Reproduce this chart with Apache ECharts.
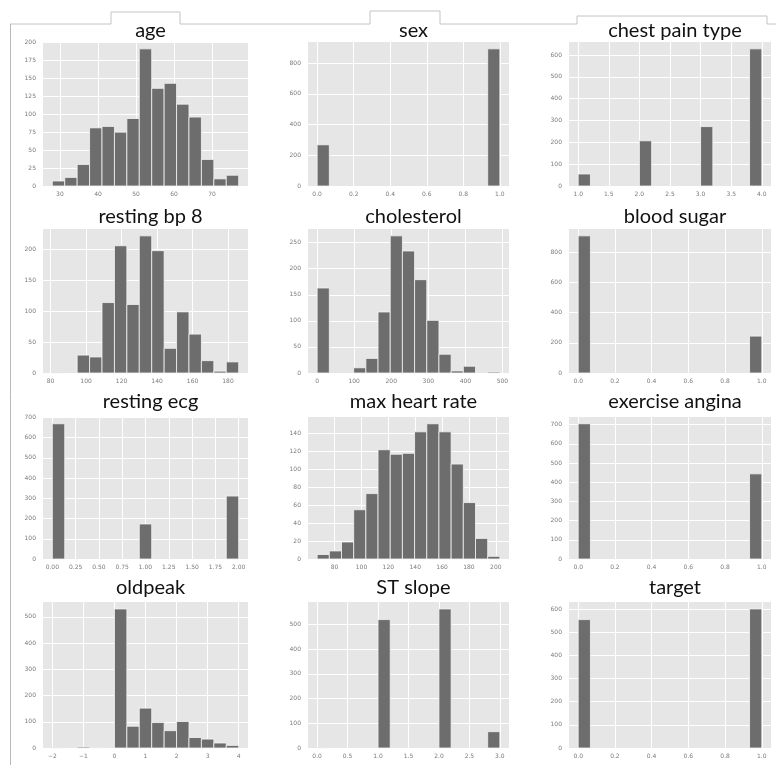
<!DOCTYPE html>
<html>
<head>
<meta charset="utf-8">
<script src="https://cdn.jsdelivr.net/npm/echarts@6/dist/echarts.min.js"></script>
<style>
html,body{margin:0;padding:0;background:#ffffff;}
#chart{width:776px;height:765px;}
</style>
</head>
<body>
<div id="chart"></div>
<script>
// ---------- data (histogram counts, 15 bins each) ----------
const titles = ['age','sex','chest pain type','resting bp 8','cholesterol','blood sugar',
                'resting ecg','max heart rate','exercise angina','oldpeak','ST slope','target'];

const ageCounts      = [7,12,30,81,83,75,94,191,136,143,114,96,37,10,15];
const ageRange       = [28,77];
const ageXTicks      = [30,40,50,60,70];
const ageYTicks      = [0,25,50,75,100,125,150,175,200];

const sexCounts      = [268,0,0,0,0,0,0,0,0,0,0,0,0,0,892];
const sexRange       = [0,1];
const sexXTicks      = [0,0.2,0.4,0.6,0.8,1.0];
const sexYTicks      = [0,200,400,600,800];

const chestCounts    = [55,0,0,0,0,207,0,0,0,0,272,0,0,0,628];
const chestRange     = [1,4];
const chestXTicks    = [1,1.5,2,2.5,3,3.5,4];
const chestYTicks    = [0,100,200,300,400,500,600];

const bpCounts       = [1,0,29,26,114,206,111,222,198,40,99,63,20,3,18];
const bpRange        = [81,186];
const bpXTicks       = [80,100,120,140,160,180];
const bpYTicks       = [0,50,100,150,200];

const cholCounts     = [163,0,0,10,28,117,263,234,179,101,36,4,13,0,2];
const cholRange      = [0,493];
const cholXTicks     = [0,100,200,300,400,500];
const cholYTicks     = [0,50,100,150,200,250];

const sugarCounts    = [907,0,0,0,0,0,0,0,0,0,0,0,0,0,244];
const sugarRange     = [0,1];
const sugarXTicks    = [0,0.2,0.4,0.6,0.8,1.0];
const sugarYTicks    = [0,200,400,600,800];

const ecgCounts      = [668,0,0,0,0,0,0,173,0,0,0,0,0,0,311];
const ecgRange       = [0,2];
const ecgXTicks      = [0,0.25,0.5,0.75,1,1.25,1.5,1.75,2];
const ecgYTicks      = [0,100,200,300,400,500,600,700];

const hrCounts       = [5,9,19,55,73,122,117,118,142,151,142,106,63,23,3];
const hrRange        = [67,203];
const hrXTicks       = [80,100,120,140,160,180,200];
const hrYTicks       = [0,20,40,60,80,100,120,140];

const anginaCounts   = [705,0,0,0,0,0,0,0,0,0,0,0,0,0,444];
const anginaRange    = [0,1];
const anginaXTicks   = [0,0.2,0.4,0.6,0.8,1.0];
const anginaYTicks   = [0,100,200,300,400,500,600,700];

const oldpeakCounts  = [1,0,4,2,0,530,83,152,97,66,101,40,34,19,10];
const oldpeakRange   = [-2,4];
const oldpeakXTicks  = [-2,-1,0,1,2,3,4];
const oldpeakYTicks  = [0,100,200,300,400,500];

const slopeCounts    = [1,0,0,0,0,519,0,0,0,0,562,0,0,0,66];
const slopeRange     = [0,3];
const slopeXTicks    = [0,0.5,1,1.5,2,2.5,3];
const slopeYTicks    = [0,100,200,300,400,500];

const targetCounts   = [554,0,0,0,0,0,0,0,0,0,0,0,0,0,600];
const targetRange    = [0,1];
const targetXTicks   = [0,0.2,0.4,0.6,0.8,1.0];
const targetYTicks   = [0,100,200,300,400,500,600];

const panels = [
  {counts: ageCounts,     range: ageRange,     xt: ageXTicks,     yt: ageYTicks,     dec: 0},
  {counts: sexCounts,     range: sexRange,     xt: sexXTicks,     yt: sexYTicks,     dec: 1},
  {counts: chestCounts,   range: chestRange,   xt: chestXTicks,   yt: chestYTicks,   dec: 1},
  {counts: bpCounts,      range: bpRange,      xt: bpXTicks,      yt: bpYTicks,      dec: 0},
  {counts: cholCounts,    range: cholRange,    xt: cholXTicks,    yt: cholYTicks,    dec: 0},
  {counts: sugarCounts,   range: sugarRange,   xt: sugarXTicks,   yt: sugarYTicks,   dec: 1},
  {counts: ecgCounts,     range: ecgRange,     xt: ecgXTicks,     yt: ecgYTicks,     dec: 2},
  {counts: hrCounts,      range: hrRange,      xt: hrXTicks,      yt: hrYTicks,      dec: 0},
  {counts: anginaCounts,  range: anginaRange,  xt: anginaXTicks,  yt: anginaYTicks,  dec: 1},
  {counts: oldpeakCounts, range: oldpeakRange, xt: oldpeakXTicks, yt: oldpeakYTicks, dec: 0},
  {counts: slopeCounts,   range: slopeRange,   xt: slopeXTicks,   yt: slopeYTicks,   dec: 1},
  {counts: targetCounts,  range: targetRange,  xt: targetXTicks,  yt: targetYTicks,  dec: 1}
];

// ---------- layout ----------
const colLeft  = [43, 308, 569];
const colWidth = [205, 201, 202];
const rowTop   = [42, 229, 417, 602];
const rowH     = [144, 144, 142, 146];
const titleTop = [16, 202, 387, 573];

const grids = [], xAxes = [], yAxes = [], series = [], titleOpts = [];
const labelStyle = {fontSize: 6, color: '#7a7a7a', fontFamily: 'DejaVu Sans'};

panels.forEach((p, i) => {
  const r = Math.floor(i / 3), c = i % 3;
  const nb = p.counts.length;
  const w = (p.range[1] - p.range[0]) / nb;
  const span = p.range[1] - p.range[0];
  const ymax = Math.max.apply(null, p.counts) * 1.05;
  grids.push({left: colLeft[c], top: rowTop[r], width: colWidth[c], height: rowH[r],
    show: true, backgroundColor: '#E6E6E6', borderWidth: 0, containLabel: false});
  xAxes.push({type: 'value', gridIndex: i,
    min: p.range[0] - 0.05 * span, max: p.range[1] + 0.05 * span,
    axisLine: {show: false},
    axisTick: {show: false, customValues: p.xt},
    splitLine: {show: true, lineStyle: {color: '#ffffff', width: 1}},
    axisLabel: Object.assign({customValues: p.xt, margin: 5,
      formatter: v => { const s = Number(v).toFixed(p.dec); return s.replace('-', '\u2212'); }}, labelStyle)
  });
  yAxes.push({type: 'value', gridIndex: i, min: 0, max: ymax,
    axisLine: {show: false},
    axisTick: {show: false, customValues: p.yt},
    splitLine: {show: true, lineStyle: {color: '#ffffff', width: 1}},
    axisLabel: Object.assign({customValues: p.yt, margin: 7, formatter: v => String(v)}, labelStyle)
  });
  const data = [];
  p.counts.forEach((cnt, k) => {
    if (cnt > 0) data.push([p.range[0] + k * w, p.range[0] + (k + 1) * w, cnt]);
  });
  series.push({type: 'custom', xAxisIndex: i, yAxisIndex: i, data: data,
    encode: {x: [0, 1], y: 2},
    renderItem: function (params, api) {
      const a = api.coord([api.value(0), api.value(2)]);
      const b = api.coord([api.value(1), 0]);
      return {type: 'rect',
        shape: {x: a[0], y: a[1], width: b[0] - a[0], height: b[1] - a[1]},
        style: {fill: '#6d6d6d', stroke: '#f4f4f4', lineWidth: 0.8}};
    },
    silent: true, animation: false
  });
  titleOpts.push({text: titles[i], left: colLeft[c] + colWidth[c] / 2, top: titleTop[r],
    textAlign: 'center',
    textStyle: {fontFamily: 'Lato', fontWeight: 'normal', fontSize: 20, color: '#111111'}});
});

const lineColor = '#c4c4c4';
const graphics = [
  {type: 'polyline', silent: true, z: 10,
   shape: {points: [[10,24],[111,24],[111,12],[180,12],[180,24],[370,24],[370,11],[440,11],[440,24],
                    [577,24],[577,16],[767,16],[767,24],[776,24]]},
   style: {stroke: lineColor, lineWidth: 1, fill: null}},
  {type: 'line', silent: true, z: 10, shape: {x1: 10.5, y1: 24, x2: 10.5, y2: 765},
   style: {stroke: '#b8b8b8', lineWidth: 1}}
];

const chart = echarts.init(document.getElementById('chart'), null, {renderer: 'canvas'});
chart.setOption({
  backgroundColor: '#ffffff',
  animation: false,
  title: titleOpts,
  grid: grids,
  xAxis: xAxes,
  yAxis: yAxes,
  series: series,
  graphic: graphics
});
</script>
</body>
</html>
